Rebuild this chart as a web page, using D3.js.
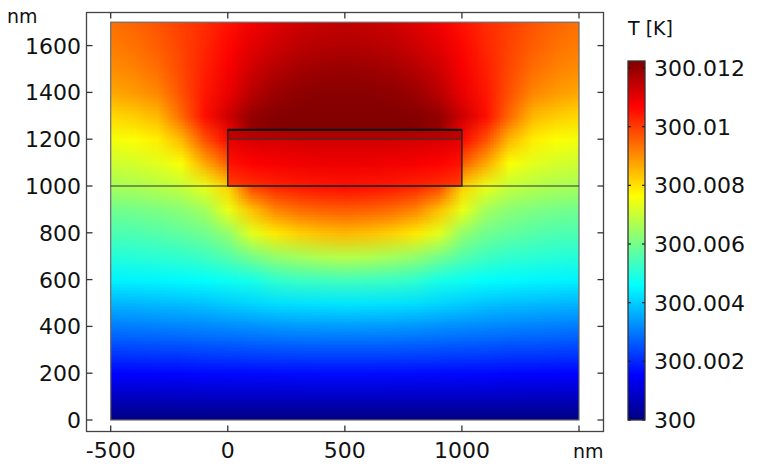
<!DOCTYPE html>
<html><head><meta charset="utf-8">
<script src="https://cdn.jsdelivr.net/npm/d3@7"></script>
<style>html,body{margin:0;padding:0;background:#fff;}svg{display:block;font-family:"DejaVu Sans",sans-serif;}</style>
</head><body><svg id="chart" width="759" height="469"></svg>
<script>
// ---- data (temperature rise above 300 K, in mK) ----
const xNodes = [-500,-400,-300,-200,-100,0,100,200,300,400,500,600,700,800,900,1000,1100,1200,1300,1400,1500];
const yNodes = [0,100,200,300,400,500,600,700,800,900,1000,1100,1200,1300,1400,1500,1600,1700];
const fieldRows = [
 [0,0,0,0,0,0,0,0,0,0,0,0,0,0,0,0,0,0,0,0,0],
 [0.8,0.8,0.8,0.81,0.82,0.82,0.82,0.82,0.82,0.82,0.82,0.82,0.82,0.82,0.82,0.82,0.82,0.81,0.8,0.8,0.8],
 [1.55,1.56,1.57,1.58,1.6,1.62,1.63,1.64,1.64,1.65,1.65,1.65,1.64,1.64,1.63,1.62,1.6,1.58,1.57,1.56,1.55],
 [2.3,2.32,2.35,2.35,2.4,2.42,2.45,2.48,2.5,2.5,2.5,2.5,2.5,2.48,2.45,2.42,2.4,2.35,2.35,2.32,2.3],
 [3.0,3.03,3.07,3.1,3.15,3.2,3.25,3.3,3.35,3.37,3.38,3.37,3.35,3.3,3.25,3.2,3.15,3.1,3.07,3.03,3.0],
 [3.72,3.74,3.78,3.82,3.88,4.0,4.1,4.2,4.25,4.28,4.3,4.28,4.25,4.2,4.1,4.0,3.88,3.82,3.78,3.74,3.72],
 [4.45,4.47,4.5,4.55,4.62,4.75,4.85,5.15,5.3,5.35,5.4,5.35,5.3,5.15,4.85,4.75,4.62,4.55,4.5,4.47,4.45],
 [5.02,5.05,5.1,5.18,5.33,5.6,6.0,6.35,6.55,6.7,6.8,6.7,6.55,6.35,6.0,5.6,5.33,5.18,5.1,5.05,5.02],
 [5.5,5.53,5.62,5.76,5.95,6.35,7.3,7.9,8.2,8.4,8.5,8.4,8.2,7.9,7.3,6.35,5.95,5.76,5.62,5.53,5.5],
 [5.95,6.0,6.1,6.25,6.55,7.4,8.4,9.1,9.4,9.55,9.6,9.55,9.4,9.1,8.4,7.4,6.55,6.25,6.1,6.0,5.95],
 [6.6,6.65,6.78,6.95,7.4,8.2,9.9,10.3,10.45,10.55,10.6,10.55,10.45,10.3,9.9,8.2,7.4,6.95,6.78,6.65,6.6],
 [7.05,7.15,7.32,7.6,8.7,9.6,11.0,11.2,11.3,11.3,11.3,11.3,11.3,11.2,11.0,9.6,8.7,7.6,7.32,7.15,7.05],
 [7.5,7.62,7.85,8.5,9.75,10.6,12.0,12.2,12.25,12.25,12.25,12.25,12.25,12.2,12.0,10.6,9.75,8.5,7.85,7.62,7.5],
 [8.1,8.25,8.5,9.45,10.55,11.3,12.0,12.15,12.2,12.2,12.2,12.2,12.2,12.15,12.0,11.3,10.55,9.45,8.5,8.25,8.1],
 [8.7,8.85,9.1,9.75,10.45,10.95,11.55,11.9,12.05,12.1,12.1,12.1,12.05,11.9,11.55,10.95,10.45,9.75,9.1,8.85,8.7],
 [9.0,9.15,9.4,9.85,10.35,10.8,11.3,11.6,11.8,11.9,11.95,11.9,11.8,11.6,11.3,10.8,10.35,9.85,9.4,9.15,9.0],
 [9.2,9.35,9.6,9.9,10.25,10.65,11.05,11.3,11.5,11.6,11.65,11.6,11.5,11.3,11.05,10.65,10.25,9.9,9.6,9.35,9.2],
 [9.35,9.5,9.7,9.95,10.2,10.5,10.85,11.1,11.3,11.4,11.45,11.4,11.3,11.1,10.85,10.5,10.2,9.95,9.7,9.5,9.35]
];
const blockX = [0,100,200,300,400,500,600,700,800,900,1000];
const blockY = [1000,1100,1200];
const blockRows = [
 [9.9,10.15,10.3,10.4,10.45,10.5,10.45,10.4,10.3,10.15,9.9],
 [10.5,10.7,10.8,10.85,10.9,10.9,10.9,10.85,10.8,10.7,10.5],
 [11.0,11.15,11.2,11.25,11.25,11.25,11.25,11.25,11.2,11.15,11.0]
];
const stripY = [1200,1240];
const stripRows = [
 [11.4,11.55,11.6,11.65,11.65,11.65,11.65,11.65,11.6,11.55,11.4],
 [11.5,11.65,11.7,11.75,11.75,11.75,11.75,11.75,11.7,11.65,11.5]
];
const xTicks = [-500,0,500,1000,1500];
const xTickLabels = ["-500","0","500","1000",""];
const yTicks = [0,200,400,600,800,1000,1200,1400,1600];
const cbTicks = [300,300.002,300.004,300.006,300.008,300.01,300.012];
const cbLabels = ["300","300.002","300.004","300.006","300.008","300.01","300.012"];
const tMin = 300, tMax = 300.01224;

// ---- scales ----
const svg = d3.select("#chart");
const x = d3.scaleLinear().domain([-500,1500]).range([110.7,579]);
const y = d3.scaleLinear().domain([0,1600]).range([420,45.6]);
const cbY = d3.scaleLinear().domain([tMin,tMax]).range([420,61]);

function jet(t){
  t = Math.max(0,Math.min(1,t));
  const c = v => Math.round(255*Math.max(0,Math.min(1,v)));
  return [c(1.5-Math.abs(4*t-3)), c(1.5-Math.abs(4*t-2)), c(1.5-Math.abs(4*t-1))];
}
const norm = v => (300 + v/1000 - tMin)/(tMax - tMin);

const defs = svg.append("defs");
let clipId = 0;
function drawField(rows, xs, ys, x0, x1, y0, y1){
  const w = xs.length, h = ys.length;
  const cv = document.createElement("canvas"); cv.width = w; cv.height = h;
  const ctx = cv.getContext("2d"); const img = ctx.createImageData(w,h);
  for(let j=0;j<h;j++){ for(let i=0;i<w;i++){
    const rgb = jet(norm(rows[j][i])); const p = ((h-1-j)*w+i)*4;
    img.data[p]=rgb[0]; img.data[p+1]=rgb[1]; img.data[p+2]=rgb[2]; img.data[p+3]=255; } }
  ctx.putImageData(img,0,0);
  const dx = (xs[w-1]-xs[0])/(w-1), dy = (ys[h-1]-ys[0])/(h-1);
  const id = "clip"+(clipId++);
  defs.append("clipPath").attr("id",id).append("rect")
    .attr("x",x(x0)).attr("y",y(y1)).attr("width",x(x1)-x(x0)).attr("height",y(y0)-y(y1));
  svg.append("image").attr("clip-path","url(#"+id+")")
    .attr("href",cv.toDataURL()).attr("preserveAspectRatio","none")
    .attr("x",x(xs[0]-dx/2)).attr("width",x(xs[w-1]+dx/2)-x(xs[0]-dx/2))
    .attr("y",y(ys[h-1]+dy/2)).attr("height",y(ys[0]-dy/2)-y(ys[h-1]+dy/2));
}
drawField(fieldRows, xNodes, yNodes, -500, 1500, 0, 1700);
drawField(blockRows, blockX, blockY, 0, 1000, 1000, 1200);
drawField(stripRows, blockX, stripY, 0, 1000, 1200, 1240);

// geometry edges
svg.append("rect").attr("x",x(-500)).attr("y",y(1700)).attr("width",x(1500)-x(-500)).attr("height",y(0)-y(1700))
  .attr("fill","none").attr("stroke","#6a6a6a").attr("stroke-width",1.2);
svg.append("line").attr("x1",x(-500)).attr("x2",x(1500)).attr("y1",y(1000)).attr("y2",y(1000)).attr("stroke","#333").attr("stroke-width",1.2);
svg.append("rect").attr("x",x(0)).attr("y",y(1240)).attr("width",x(1000)-x(0)).attr("height",y(1000)-y(1240))
  .attr("fill","none").attr("stroke","#222").attr("stroke-width",1.4);
svg.append("line").attr("x1",x(0)).attr("x2",x(1000)).attr("y1",y(1240)).attr("y2",y(1240)).attr("stroke","#111").attr("stroke-width",2);
svg.append("line").attr("x1",x(0)).attr("x2",x(1000)).attr("y1",y(1200)).attr("y2",y(1200)).attr("stroke","#333").attr("stroke-width",1.1);

// frame
const fL=86.5, fR=603.5, fT=12.5, fB=431.5;
svg.append("rect").attr("x",fL).attr("y",fT).attr("width",fR-fL).attr("height",fB-fT)
  .attr("fill","none").attr("stroke","#444").attr("stroke-width",1.3);
const tk = svg.append("g").attr("stroke","#333").attr("stroke-width",1.3);
xTicks.forEach(v=>{
  tk.append("line").attr("x1",x(v)).attr("x2",x(v)).attr("y1",fB).attr("y2",fB-6);
  tk.append("line").attr("x1",x(v)).attr("x2",x(v)).attr("y1",fT).attr("y2",fT+6);
});
yTicks.forEach(v=>{
  tk.append("line").attr("y1",y(v)).attr("y2",y(v)).attr("x1",fL).attr("x2",fL+6);
  tk.append("line").attr("y1",y(v)).attr("y2",y(v)).attr("x1",fR).attr("x2",fR-6);
});
const lab = svg.append("g").attr("fill","#111").attr("font-size",22);
xTicks.forEach((v,i)=>{
  if(xTickLabels[i]) lab.append("text").attr("x",x(v)).attr("y",458).attr("text-anchor","middle").text(xTickLabels[i]);
});
yTicks.forEach(v=>{
  lab.append("text").attr("x",81).attr("y",y(v)+8).attr("text-anchor","end").text(v);
});
svg.append("text").attr("x",7).attr("y",23).attr("font-size",19).attr("fill","#111").text("nm");
svg.append("text").attr("x",573).attr("y",458).attr("font-size",19).attr("fill","#111").text("nm");

// colorbar
const grad = defs.append("linearGradient").attr("id","cbg").attr("x1",0).attr("x2",0).attr("y1",1).attr("y2",0);
[0,0.125,0.375,0.625,0.875,1].forEach(t=>{
  const c = jet(t); grad.append("stop").attr("offset",t).attr("stop-color",`rgb(${c[0]},${c[1]},${c[2]})`);
});
const cbX0 = 628, cbX1 = 645;
svg.append("rect").attr("x",cbX0).attr("y",cbY(tMax)).attr("width",cbX1-cbX0).attr("height",cbY(tMin)-cbY(tMax))
  .attr("fill","url(#cbg)").attr("stroke","#333").attr("stroke-width",1.3);
const ctk = svg.append("g").attr("stroke","#222").attr("stroke-width",1.2);
cbTicks.forEach((v,i)=>{
  ctk.append("line").attr("x1",cbX0).attr("x2",cbX0+3).attr("y1",cbY(v)).attr("y2",cbY(v));
  ctk.append("line").attr("x1",cbX1).attr("x2",cbX1-3).attr("y1",cbY(v)).attr("y2",cbY(v));
  lab.append("text").attr("x",654).attr("y",cbY(v)+8).text(cbLabels[i]);
});
svg.append("text").attr("x",628).attr("y",35).attr("font-size",19).attr("fill","#111").text("T [K]");
</script></body></html>
